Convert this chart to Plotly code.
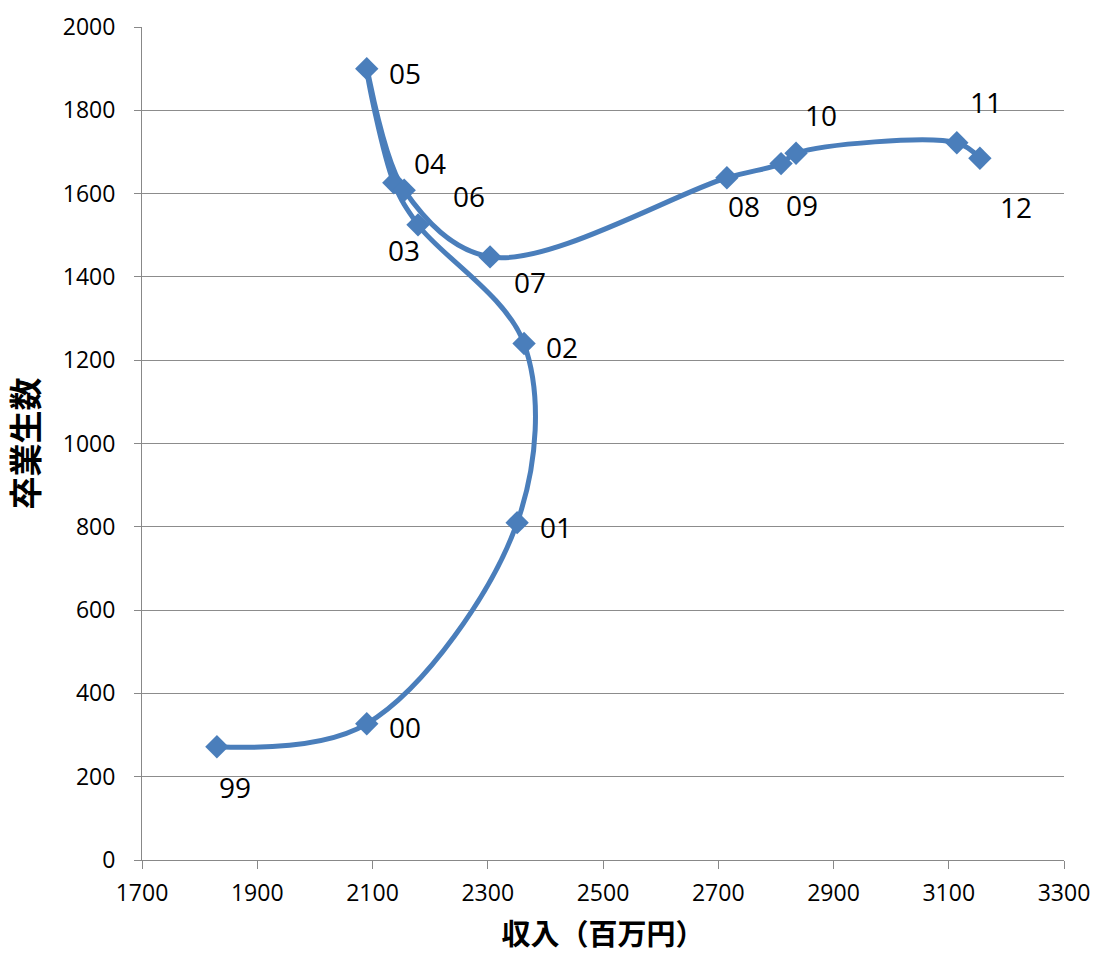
import plotly.graph_objects as go

# Year labels, income (million yen) and number of graduates
years = ["99", "00", "01", "02", "03", "04", "05", "06", "07", "08", "09", "10", "11", "12"]
income = [1830, 2090, 2351, 2363, 2179, 2137, 2090, 2155, 2304, 2715, 2809, 2835, 3114, 3154]
graduates = [272, 327, 810, 1240, 1525, 1626, 1900, 1608, 1448, 1638, 1672, 1697, 1722, 1685]

x_ticks = [1700, 1900, 2100, 2300, 2500, 2700, 2900, 3100, 3300]
y_ticks = [0, 200, 400, 600, 800, 1000, 1200, 1400, 1600, 1800, 2000]

# Pixel offsets of each year label from its marker
label_offsets = {
    "99": (18, -40), "00": (38, -3), "01": (39, -4), "02": (38, -3),
    "03": (-14, -25), "04": (36, 20), "05": (38, -4), "06": (65, -6),
    "07": (40, -25), "08": (17, -28), "09": (21, -41), "10": (25, 38),
    "11": (29, 41), "12": (36, -49),
}

line_color = "#4a7ebb"
num_font = "Open Sans, Noto Sans, sans-serif"
cjk_font = "Noto Sans CJK JP"

fig = go.Figure()
fig.add_trace(go.Scatter(
    x=income, y=graduates,
    mode="lines+markers",
    line=dict(color=line_color, width=5, shape="spline", smoothing=1),
    marker=dict(symbol="diamond", size=18, color=line_color),
    hoverinfo="skip",
    showlegend=False,
))

for yr, xv, yv in zip(years, income, graduates):
    dx, dy = label_offsets[yr]
    fig.add_annotation(
        x=xv, y=yv, xref="x", yref="y", text=yr, showarrow=False,
        xshift=dx, yshift=dy,
        font=dict(family=num_font, size=28, color="#000000"),
    )

fig.update_layout(
    width=1094, height=953,
    margin=dict(l=142, r=30, t=27, b=93),
    paper_bgcolor="white", plot_bgcolor="white",
    font=dict(family=cjk_font, color="#000000"),
    xaxis=dict(
        range=[1700, 3300], tickvals=x_ticks, ticktext=[str(v) for v in x_ticks],
        showgrid=False, zeroline=False, automargin=False,
        showline=True, linecolor="#888888", linewidth=1,
        ticks="outside", ticklen=8, tickcolor="#888888",
        ticklabelstandoff=4,
        tickfont=dict(family=num_font, size=23),
        title=dict(text="<b>収入（百万円）</b>", standoff=22,
                   font=dict(family=cjk_font, size=29)),
    ),
    yaxis=dict(
        range=[0, 2000], tickvals=y_ticks, ticktext=[str(v) for v in y_ticks],
        showgrid=True, gridcolor="#8c8c8c", gridwidth=1, zeroline=False,
        automargin=False,
        showline=True, linecolor="#888888", linewidth=1,
        ticks="outside", ticklen=7, tickcolor="#888888",
        ticklabelstandoff=14,
        tickfont=dict(family=num_font, size=23),
        title=dict(text="<b>卒業生数</b>", standoff=16,
                   font=dict(family=cjk_font, size=33)),
    ),
)

fig.write_html("out.html")
